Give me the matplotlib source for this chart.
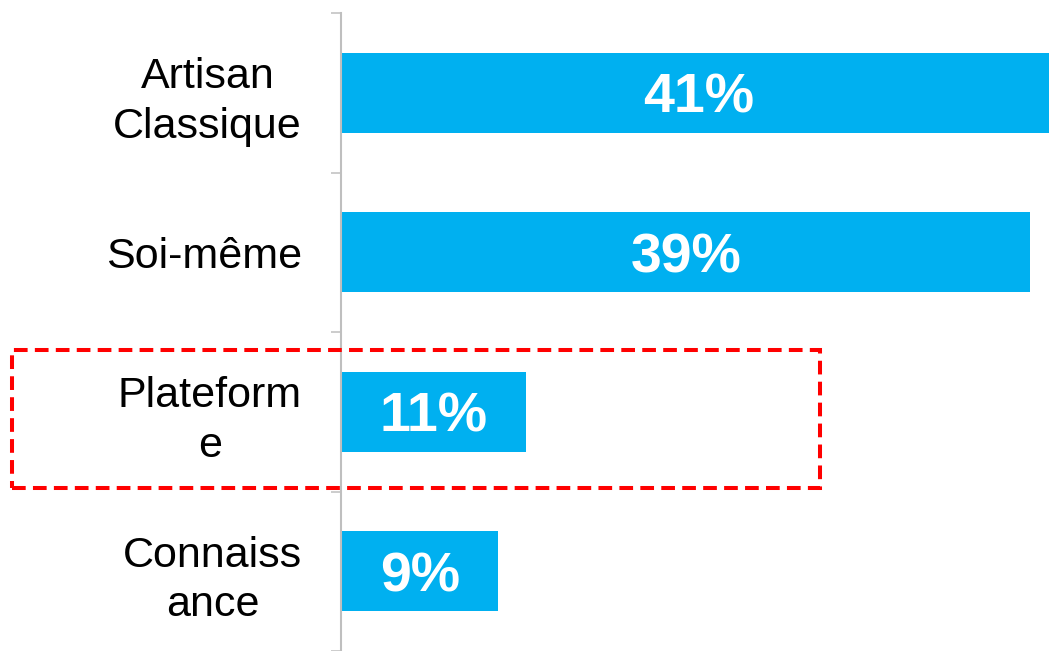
import matplotlib
matplotlib.use("Agg")
import matplotlib.pyplot as plt
from matplotlib.patches import Rectangle

categories = ["Artisan\nClassique", "Soi-même", "Plateform\ne", "Connaiss\nance"]
values = [40.9, 39.4, 10.6, 9.0]
value_labels = ["41%", "39%", "11%", "9%"]

plt.rcParams['font.family'] = ['Liberation Sans', 'DejaVu Sans']

fig = plt.figure(figsize=(10.49, 6.51), dpi=100)
ax = fig.add_axes([341/1049, 0, 1 - 341/1049, (651-13)/651])

ypos = list(range(len(categories)))
ax.barh(ypos, values, height=0.5, color="#00B0F0", edgecolor="none")
for y, v, lab in zip(ypos, values, value_labels):
    ax.text(v / 2, y + 0.125, lab, color="white", fontsize=40, fontweight="bold",
            ha="center", va="baseline")

ax.set_xlim(0, 40.46)
ax.set_ylim(len(categories) - 0.5, -0.5)

ax.set_yticks(ypos)
ax.set_yticklabels(categories, fontsize=31, multialignment="center", linespacing=1.3)
ax.tick_params(axis="y", which="major", length=0, pad=28)
ax.set_yticks([i - 0.5 for i in range(len(categories) + 1)], minor=True)
ax.tick_params(axis="y", which="minor", length=7.2, width=1.1, color="#BFBFBF", direction="out")
ax.set_xticks([])

for s in ["top", "right", "bottom"]:
    ax.spines[s].set_visible(False)
ax.spines["left"].set_color("#BFBFBF")
ax.spines["left"].set_linewidth(1.5)

rect = Rectangle((12/1049, 1 - 488/651), (820-12)/1049, (488-350)/651,
                 transform=fig.transFigure, fill=False, edgecolor="#FF0000",
                 linewidth=2.9, linestyle=(0, (3.4, 1.8)), clip_on=False, zorder=5)
fig.patches.append(rect)

fig.savefig("out.png", dpi=100)
